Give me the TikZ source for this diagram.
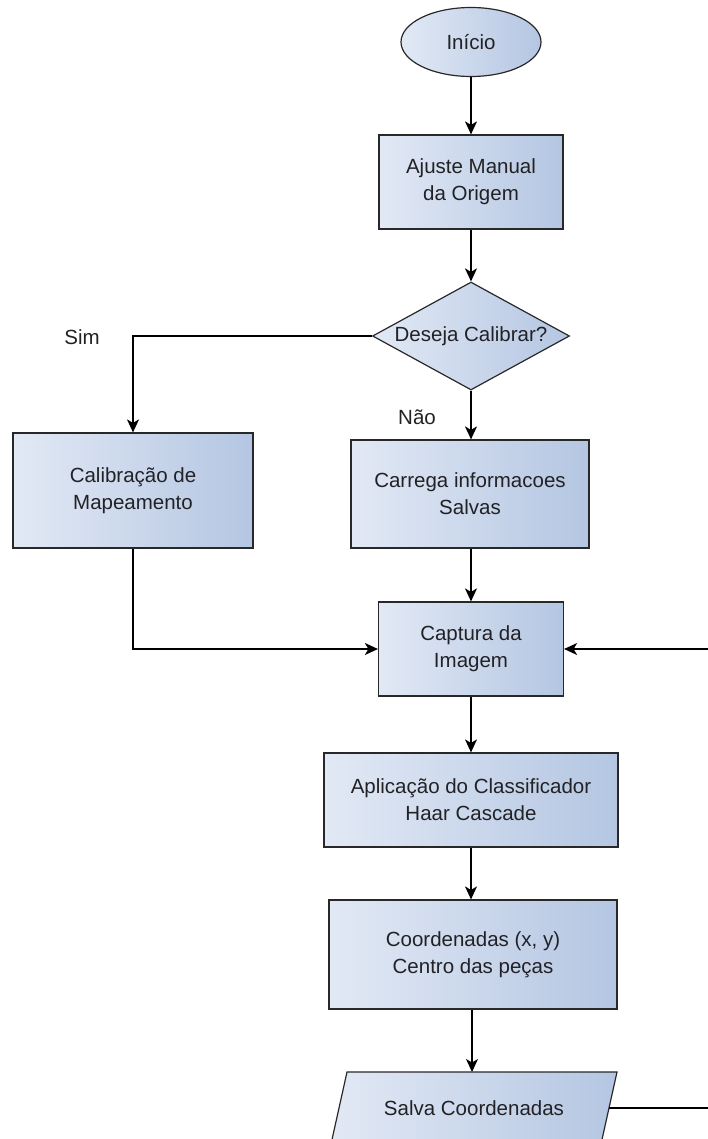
\documentclass[tikz,border=0pt]{standalone}
\usepackage{fontspec}
\setmainfont{Liberation Sans}
\usetikzlibrary{arrows.meta,shapes.geometric}
\definecolor{boxlight}{RGB}{226,233,245}
\definecolor{boxdark}{RGB}{180,198,226}
\definecolor{ink}{RGB}{34,34,38}
\definecolor{edge}{RGB}{40,40,40}
\begin{document}
\begin{tikzpicture}[x=1pt,y=-1pt,
  every node/.style={font=\fontsize{20.5}{27}\selectfont, text=ink},
  boxfill/.style={left color=boxlight, right color=boxdark},
  flowbox/.style={draw=edge, line width=1.2pt, boxfill, align=center, inner sep=0pt},
  flowline/.style={line width=1.3pt, draw=black},
  flowarrow/.style={flowline, -{Stealth[length=13pt,width=12pt,inset=3.5pt]}}]
\useasboundingbox (0,0) rectangle (708,1139);
\begin{scope}
\clip (0,0) rectangle (708,1139);

% terminal and process steps
\node[flowbox, ellipse, minimum width=140pt, minimum height=69pt] (inicio) at (471,42) {Início};
\node[flowbox, minimum width=184pt, minimum height=94pt] (ajuste) at (471,182) {Ajuste Manual\\da Origem};
\node[flowbox, diamond, minimum width=197pt, minimum height=108pt] (decide) at (471,336) {};
\node (decidetext) at (decide.center) {Deseja Calibrar?};
\node[flowbox, minimum width=240pt, minimum height=115pt] (calib) at (133,490.5) {Calibração de\\Mapeamento};
\node[flowbox, minimum width=238pt, minimum height=108pt] (carrega) at (470,494) {Carrega informacoes\\Salvas};
\node[flowbox, minimum width=185pt, minimum height=94pt] (captura) at (471,649) {Captura da\\Imagem};
\node[flowbox, minimum width=294pt, minimum height=94pt] (aplica) at (471,800) {Aplicação do Classificador\\Haar Cascade};
\node[flowbox, minimum width=288pt, minimum height=109pt] (coord) at (473,954.5) {Coordenadas (x, y)\\Centro das peças};

% output step (parallelogram)
\path[draw=edge, line width=1.2pt, boxfill] (347,1072) -- (617,1072) -- (601,1144) -- (331,1144) -- cycle;
\node (salva) at (474,1108) {Salva Coordenadas};
\coordinate (salvaTop) at (472,1072);
\coordinate (salvaRight) at (609,1108);
\coordinate (loopOut) at (708,1108);
\coordinate (loopIn) at (708,649);

% branch labels
\node (sim) at (82,337) {Sim};
\node (nao) at (417,417) {Não};

% connectors
\draw[flowarrow] (inicio) -- (ajuste);
\draw[flowarrow] (ajuste) -- (decide);
\draw[flowarrow] (decide.west) -| (calib.north);
\draw[flowarrow] (decide.south) -- (decide.south |- carrega.north);
\draw[flowarrow] (carrega.south -| captura.north) -- (captura.north);
\draw[flowarrow] (calib.south) |- (captura.west);
\draw[flowarrow] (loopIn) -- (captura.east);
\draw[flowarrow] (captura) -- (aplica);
\draw[flowarrow] (aplica.south) -- (aplica.south |- coord.north);
\draw[flowarrow] (coord.south -| salvaTop) -- (salvaTop);
\draw[flowline] (salvaRight) -- (loopOut);
\end{scope}
\end{tikzpicture}
\end{document}
